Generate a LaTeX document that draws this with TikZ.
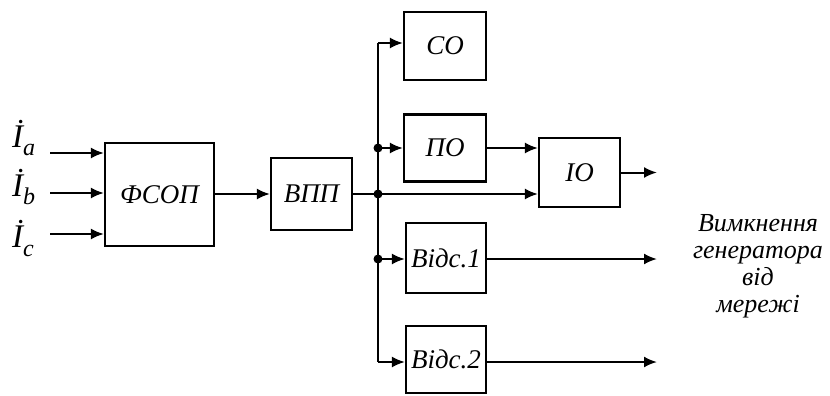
\documentclass[tikz,border=0pt]{standalone}
\usepackage{fontspec}
\setmainfont{Liberation Serif}
\usetikzlibrary{arrows.meta}
\begin{document}
\begin{tikzpicture}[x=1pt,y=-1pt,
  blk/.style={draw, line width=2.2pt, inner sep=0pt, font=\itshape\fontsize{27}{30}\selectfont},
  con/.style={line width=2pt},
  arr/.style={con, -{Latex[length=13pt,width=11pt]}},
  jdot/.style={circle, fill, inner sep=0pt, minimum size=9pt},
  inlab/.style={anchor=base west, inner sep=0pt, font=\itshape\fontsize{33}{36}\selectfont}]
\useasboundingbox (0,0) rectangle (830,396);
% blocks
\node[blk, minimum width=109pt, minimum height=103pt] (fsop) at (159.5,194.5) {ФСОП};
\node[blk, minimum width=81pt, minimum height=72pt] (vpp) at (311.5,194) {ВПП};
\node[blk, minimum width=82pt, minimum height=68pt] (so) at (445,46) {СО};
\node[blk, minimum width=82pt, minimum height=67pt] (po) at (445,148) {ПО};
\node[blk, minimum width=81pt, minimum height=69pt] (io) at (579.5,172.5) {ІО};
\node[blk, minimum width=80pt, minimum height=70pt] (v1) at (446,258) {Відс.1};
\node[blk, minimum width=80pt, minimum height=67pt] (v2) at (446,359.5) {Відс.2};
% inputs
\node[inlab] (la) at (12,147) {İ\raisebox{-8pt}{\fontsize{24}{26}\selectfont a}};
\node[inlab] (lb) at (12,196) {İ\raisebox{-8pt}{\fontsize{24}{26}\selectfont b}};
\node[inlab] (lc) at (12,247) {İ\raisebox{-9pt}{\fontsize{24}{26}\selectfont c}};
\coordinate (ia) at (50,153);
\coordinate (ib) at (50,193);
\coordinate (ic) at (50,234);
\draw[arr] (ia) -- (ia -| fsop.west);
\draw[arr] (ib) -- (ib -| fsop.west);
\draw[arr] (ic) -- (ic -| fsop.west);
\draw[arr] (fsop.east |- vpp) -- (vpp.west);
% bus
\coordinate (btop) at (378,43);
\coordinate (bbot) at (378,362);
\coordinate (jpo) at (378,148);
\coordinate (jm) at (378,194);
\coordinate (jv1) at (378,259);
\draw[con] (btop) -- (bbot);
\draw[arr] (btop) -- (btop -| so.west);
\draw[arr] (jpo) -- (po.west);
\draw[arr] (jv1) -- (jv1 -| v1.west);
\draw[arr] (bbot) -- (bbot -| v2.west);
\draw[arr] (vpp.east) -- (vpp.east -| io.west);
\draw[arr] (po.east) -- (po.east -| io.west);
\node[jdot] (d1) at (jpo) {};
\node[jdot] (d2) at (jm) {};
\node[jdot] (d3) at (jv1) {};
% outputs
\coordinate (oio) at (657,172.5);
\coordinate (ov1) at (657,259);
\coordinate (ov2) at (657,362);
\draw[arr] (io.east) -- (oio);
\draw[arr] (jv1 -| v1.east) -- (ov1);
\draw[arr] (bbot -| v2.east) -- (ov2);
\node[align=center, inner sep=0pt, font=\itshape\fontsize{26}{27}\selectfont] (txt) at (758,266) {Вимкнення\\генератора\\від\\мережі};
\end{tikzpicture}
\end{document}
